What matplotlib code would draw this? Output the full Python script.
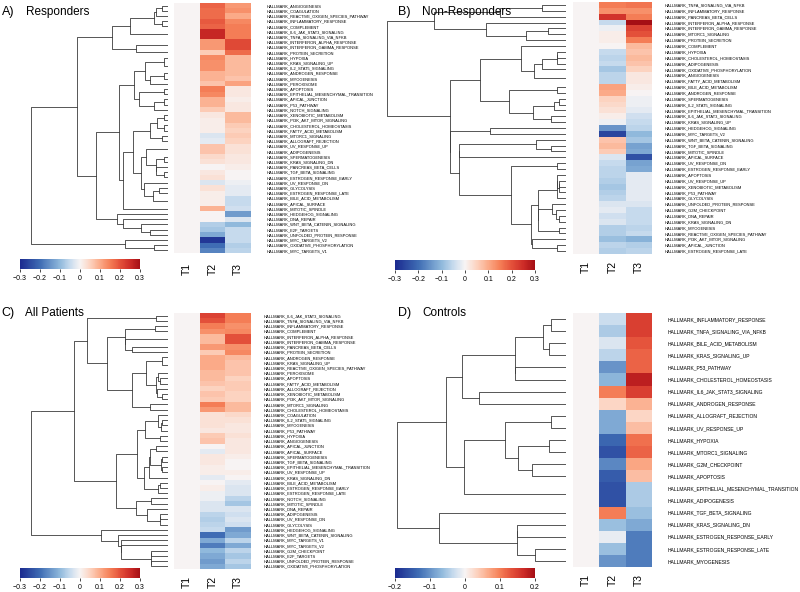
import numpy as np
import matplotlib
matplotlib.use("Agg")
import matplotlib.pyplot as plt
from matplotlib.colors import LinearSegmentedColormap

plt.rcParams["font.family"] = ["Liberation Sans", "DejaVu Sans"]

W, H = 800, 592

# A) Responders
sets_a = ["ANGIOGENESIS", "COAGULATION", "REACTIVE_OXIGEN_SPECIES_PATHWAY", "INFLAMMATORY_RESPONSE",
          "COMPLEMENT", "IL6_JAK_STAT3_SIGNALING", "TNFA_SIGNALING_VIA_NFKB", "INTERFERON_ALPHA_RESPONSE",
          "INTERFERON_GAMMA_RESPONSE", "PROTEIN_SECRETION", "HYPOXIA", "KRAS_SIGNALING_UP",
          "IL2_STAT5_SIGNALING", "ANDROGEN_RESPONSE", "MYOGENESIS", "PEROXISOME", "APOPTOSIS",
          "EPITHELIAL_MESENCHYMAL_TRANSITION", "APICAL_JUNCTION", "P53_PATHWAY", "NOTCH_SIGNALING",
          "XENOBIOTIC_METABOLISM", "PI3K_AKT_MTOR_SIGNALING", "CHOLESTEROL_HOMEOSTASIS",
          "FATTY_ACID_METABOLISM", "MTORC1_SIGNALING", "ALLOGRAFT_REJECTION", "UV_RESPONSE_UP",
          "ADIPOGENESIS", "SPERMATOGENESIS", "KRAS_SIGNALING_DN", "PANCREAS_BETA_CELLS",
          "TGF_BETA_SIGNALING", "ESTROGEN_RESPONSE_EARLY", "UV_RESPONSE_DN", "GLYCOLYSIS",
          "ESTROGEN_RESPONSE_LATE", "BILE_ACID_METABOLISM", "APICAL_SURFACE", "MITOTIC_SPINDLE",
          "HEDGEHOG_SIGNALING", "DNA_REPAIR", "WNT_BETA_CATENIN_SIGNALING", "E2F_TARGETS",
          "UNFOLDED_PROTEIN_RESPONSE", "MYC_TARGETS_V2", "OXIDATIVE_PHOSPHORYLATION", "MYC_TARGETS_V1"]
t2_a = [0.18, 0.17, 0.17, 0.19, 0.18, 0.26, 0.26, 0.12, 0.12, 0.06, 0.14, 0.13, 0.13, 0.09, 0.09,
        0.07, 0.15, 0.14, 0.09, 0.09, 0.06, 0.02, 0.01, 0.01, 0.01, -0.03, -0.02, 0.07, 0.07, 0.04,
        0.03, 0.00, 0.02, 0.03, -0.03, 0.03, 0.01, 0.01, 0.01, 0.09, 0.00, 0.00, -0.07, -0.08, -0.12,
        -0.28, -0.20, -0.17]
t3_a = [0.12, 0.13, 0.10, 0.14, 0.15, 0.15, 0.15, 0.21, 0.21, 0.17, 0.08, 0.08, 0.08, 0.08, 0.07,
        0.11, 0.02, 0.02, 0.01, 0.02, 0.02, 0.08, 0.08, 0.06, 0.05, 0.06, 0.05, 0.03, 0.03, 0.02,
        0.02, 0.01, 0.00, 0.00, -0.01, -0.02, -0.02, -0.05, -0.05, -0.04, -0.14, -0.03, -0.10, -0.05,
        -0.05, -0.05, -0.07, -0.06]

# B) Non-Responders
sets_b = ["TNFA_SIGNALING_VIA_NFKB", "INFLAMMATORY_RESPONSE", "PANCREAS_BETA_CELLS",
          "INTERFERON_ALPHA_RESPONSE", "INTERFERON_GAMMA_RESPONSE", "MTORC1_SIGNALING",
          "PROTEIN_SECRETION", "COMPLEMENT", "HYPOXIA", "CHOLESTEROL_HOMEOSTASIS", "ADIPOGENESIS",
          "OXIDATIVE_PHOSPHORYLATION", "ANGIOGENESIS", "FATTY_ACID_METABOLISM", "BILE_ACID_METABOLISM",
          "ANDROGEN_RESPONSE", "SPERMATOGENESIS", "IL2_STAT5_SIGNALING", "EPITHELIAL_MESENCHYMAL_TRANSITION",
          "IL6_JAK_STAT3_SIGNALING", "KRAS_SIGNALING_UP", "HEDGEHOG_SIGNALING", "MYC_TARGETS_V2",
          "WNT_BETA_CATENIN_SIGNALING", "TGF_BETA_SIGNALING", "MITOTIC_SPINDLE", "APICAL_SURFACE",
          "UV_RESPONSE_DN", "ESTROGEN_RESPONSE_EARLY", "APOPTOSIS", "UV_RESPONSE_UP",
          "XENOBIOTIC_METABOLISM", "P53_PATHWAY", "GLYCOLYSIS", "UNFOLDED_PROTEIN_RESPONSE",
          "G2M_CHECKPOINT", "DNA_REPAIR", "KRAS_SIGNALING_DN", "MYOGENESIS",
          "REACTIVE_OXIGEN_SPECIES_PATHWAY", "PI3K_AKT_MTOR_SIGNALING", "APICAL_JUNCTION",
          "ESTROGEN_RESPONSE_LATE"]
t2_b = [0.15, 0.13, 0.24, -0.05, -0.01, 0.01, 0.01, 0.00, -0.05, -0.06, -0.05, -0.08, -0.06, -0.06,
        0.11, 0.10, 0.05, 0.04, 0.03, 0.01, -0.01, -0.15, -0.26, 0.07, 0.08, 0.06, -0.03, -0.05, -0.06,
        -0.06, -0.07, -0.08, -0.07, -0.06, -0.03, -0.02, -0.04, -0.03, -0.07, -0.07, -0.09, -0.06, -0.07]
t3_b = [0.16, 0.13, 0.15, 0.30, 0.22, 0.20, 0.15, 0.08, 0.07, 0.08, 0.07, 0.05, 0.02, 0.02, 0.01,
        0.00, -0.01, -0.01, -0.02, -0.04, -0.05, -0.06, -0.10, -0.08, -0.13, -0.12, -0.24, -0.13, -0.12,
        -0.02, -0.02, -0.02, -0.02, -0.02, -0.03, -0.05, -0.05, -0.05, -0.06, -0.05, -0.11, -0.07, -0.06]

# C) All Patients
sets_c = ["IL6_JAK_STAT3_SIGNALING", "TNFA_SIGNALING_VIA_NFKB", "INFLAMMATORY_RESPONSE", "COMPLEMENT",
          "INTERFERON_ALPHA_RESPONSE", "INTERFERON_GAMMA_RESPONSE", "PANCREAS_BETA_CELLS",
          "PROTEIN_SECRETION", "ANDROGEN_RESPONSE", "KRAS_SIGNALING_UP", "REACTIVE_OXIGEN_SPECIES_PATHWAY",
          "PEROXISOME", "APOPTOSIS", "FATTY_ACID_METABOLISM", "ALLOGRAFT_REJECTION",
          "XENOBIOTIC_METABOLISM", "PI3K_AKT_MTOR_SIGNALING", "MTORC1_SIGNALING",
          "CHOLESTEROL_HOMEOSTASIS", "COAGULATION", "IL2_STAT5_SIGNALING", "MYOGENESIS", "P53_PATHWAY",
          "HYPOXIA", "ANGIOGENESIS", "APICAL_JUNCTION", "APICAL_SURFACE", "SPERMATOGENESIS",
          "TGF_BETA_SIGNALING", "EPITHELIAL_MESENCHYMAL_TRANSITION", "UV_RESPONSE_UP", "KRAS_SIGNALING_DN",
          "BILE_ACID_METABOLISM", "ESTROGEN_RESPONSE_EARLY", "ESTROGEN_RESPONSE_LATE", "NOTCH_SIGNALING",
          "MITOTIC_SPINDLE", "DNA_REPAIR", "ADIPOGENESIS", "UV_RESPONSE_DN", "GLYCOLYSIS",
          "HEDGEHOG_SIGNALING", "WNT_BETA_CATENIN_SIGNALING", "MYC_TARGETS_V1", "MYC_TARGETS_V2",
          "G2M_CHECKPOINT", "E2F_TARGETS", "UNFOLDED_PROTEIN_RESPONSE", "OXIDATIVE_PHOSPHORYLATION"]
t2_c = [0.22, 0.20, 0.15, 0.13, 0.08, 0.08, 0.12, 0.06, 0.10, 0.10, 0.10, 0.08, 0.08, 0.07, 0.05,
        0.07, 0.06, 0.15, 0.12, 0.03, 0.03, 0.03, 0.02, 0.06, 0.07, 0.00, -0.02, 0.02, 0.02, 0.01,
        0.01, -0.02, 0.00, 0.01, -0.01, -0.01, -0.03, -0.03, -0.06, -0.07, -0.06, -0.05, -0.20, -0.12,
        -0.18, -0.10, -0.12, -0.14, -0.12]
t3_c = [0.15, 0.15, 0.13, 0.14, 0.20, 0.20, 0.13, 0.14, 0.08, 0.07, 0.07, 0.07, 0.05, 0.06, 0.06,
        0.05, 0.05, 0.08, 0.08, 0.04, 0.03, 0.02, 0.02, 0.03, 0.02, 0.02, 0.02, 0.01, 0.00, 0.00,
        0.01, 0.00, -0.02, -0.03, -0.03, -0.06, -0.08, -0.03, -0.04, -0.03, -0.04, -0.14, -0.12, -0.06,
        -0.12, -0.06, -0.08, -0.06, -0.08]

# D) Controls
sets_d = ["INFLAMMATORY_RESPONSE", "TNFA_SIGNALING_VIA_NFKB", "BILE_ACID_METABOLISM", "KRAS_SIGNALING_UP",
          "P53_PATHWAY", "CHOLESTEROL_HOMEOSTASIS", "IL6_JAK_STAT3_SIGNALING", "ANDROGEN_RESPONSE",
          "ALLOGRAFT_REJECTION", "UV_RESPONSE_UP", "HYPOXIA", "MTORC1_SIGNALING", "G2M_CHECKPOINT",
          "APOPTOSIS", "EPITHELIAL_MESENCHYMAL_TRANSITION", "ADIPOGENESIS", "TGF_BETA_SIGNALING",
          "KRAS_SIGNALING_DN", "ESTROGEN_RESPONSE_EARLY", "ESTROGEN_RESPONSE_LATE", "MYOGENESIS"]
t2_d = [-0.03, -0.05, -0.02, -0.04, -0.10, -0.07, 0.10, 0.03, -0.08, -0.08, -0.14, -0.16, -0.11,
        -0.15, -0.16, -0.16, 0.10, -0.06, -0.01, -0.06, -0.10]
t3_d = [0.15, 0.15, 0.13, 0.12, 0.12, 0.18, 0.15, 0.06, 0.03, 0.05, 0.11, 0.12, 0.07, 0.05, -0.05,
        -0.05, -0.06, -0.08, -0.12, -0.12, -0.12]

timepoints = ["T1", "T2", "T3"]

cmap = LinearSegmentedColormap.from_list("gsva", [
    (0.0, "#1b2a8f"), (1 / 6, "#3f6db4"), (1 / 3, "#90b9dc"), (0.42, "#c9dcee"), (0.5, "#f7f4f4"),
    (0.58, "#fcd5c3"), (2 / 3, "#fbaa88"), (0.75, "#f57f57"), (5 / 6, "#e4513a"), (0.92, "#cc2b27"),
    (1.0, "#a50f15")])


def px(x0, y0, x1, y1):
    return [x0 / W, 1 - y1 / H, (x1 - x0) / W, (y1 - y0) / H]


def adjacent_linkage(vals):
    # average linkage, merging only neighbouring clusters so the row order is kept
    clusters = [{"m": [i], "pos": i + 0.5, "h": 0.0} for i in range(len(vals))]
    merges = []
    while len(clusters) > 1:
        best = None
        for j in range(len(clusters) - 1):
            a = vals[clusters[j]["m"]]
            b = vals[clusters[j + 1]["m"]]
            d = np.mean(np.linalg.norm(a[:, None, :] - b[None, :, :], axis=2))
            if best is None or d < best[0]:
                best = (d, j)
        d, j = best
        a, b = clusters[j], clusters[j + 1]
        h = max(d, a["h"], b["h"])
        merges.append((a["pos"], a["h"], b["pos"], b["h"], h))
        clusters[j:j + 2] = [{"m": a["m"] + b["m"], "pos": (a["pos"] + b["pos"]) / 2, "h": h}]
    return merges


def draw_panel(fig, sets, t2, t3, letter, title, title_xy, dend_box, heat_box, cbar_box,
               vlim, ticks, label_size, label_pad, t_pad):
    n = len(sets)
    vals = np.column_stack([np.zeros(n), t2, t3])

    ax = fig.add_axes(px(*heat_box))
    mesh = ax.pcolormesh(vals, cmap=cmap, vmin=-vlim, vmax=vlim)
    ax.set_xlim(0, 3)
    ax.set_ylim(n, 0)
    ax.set_xticks(np.arange(3) + 0.5)
    ax.set_xticklabels(timepoints, rotation=90, fontsize=7.5)
    ax.yaxis.tick_right()
    ax.set_yticks(np.arange(n) + 0.5)
    ax.set_yticklabels(["HALLMARK_" + s for s in sets], fontsize=label_size)
    ax.tick_params(axis="y", length=0, pad=label_pad)
    ax.tick_params(axis="x", length=0, pad=t_pad)
    for sp in ax.spines.values():
        sp.set_visible(False)

    ax_d = fig.add_axes(px(*dend_box))
    merges = adjacent_linkage(vals[:, 1:])
    top = max(m[4] for m in merges)
    for ya, ha, yb, hb, h in merges:
        ax_d.plot([ha, h, h, hb], [ya, ya, yb, yb], color="#3a3a3a", lw=0.6)
    ax_d.set_xlim(top * 1.01, 0)
    ax_d.set_ylim(n, 0)
    ax_d.axis("off")

    cax = fig.add_axes(px(*cbar_box))
    cb = fig.colorbar(mesh, cax=cax, orientation="horizontal", ticks=ticks)
    cb.ax.set_xticklabels(["0" if t == 0 else f"{t:.1f}".replace("-", "\u2212") for t in ticks])
    cb.ax.tick_params(labelsize=5, length=2, width=0.5, pad=2)
    cb.outline.set_visible(False)

    fig.text(title_xy[0] / W, 1 - title_xy[1] / H, letter, fontsize=9, va="center", ha="left")
    fig.text((title_xy[0] + 24) / W, 1 - title_xy[1] / H, title, fontsize=8.5, va="center", ha="left")


fig = plt.figure(figsize=(8, 5.92), dpi=100)
ticks3 = [-0.3, -0.2, -0.1, 0, 0.1, 0.2, 0.3]
ticks2 = [-0.2, -0.1, 0, 0.1, 0.2]

draw_panel(fig, sets_a, t2_a, t3_a, "A)", "Responders", (2, 12),
           (30, 3, 168, 253), (174, 3, 251, 253), (20, 259, 140, 269),
           0.3, ticks3, 2.9, 11, 7)
draw_panel(fig, sets_b, t2_b, t3_b, "B)", "Non-Responders", (398, 12),
           (385, 2, 566, 254), (573, 2, 652, 254), (395, 260, 535, 270),
           0.3, ticks3, 2.9, 9, 5)
draw_panel(fig, sets_c, t2_c, t3_c, "C)", "All Patients", (1, 313),
           (30, 313, 168, 569), (174, 313, 251, 569), (20, 568, 140, 578),
           0.3, ticks3, 2.9, 9, 5)
draw_panel(fig, sets_d, t2_d, t3_d, "D)", "Controls", (398, 313),
           (395, 313, 566, 567), (573, 313, 652, 567), (395, 568, 535, 578),
           0.2, ticks2, 3.6, 11, 5)

fig.savefig("out.png", dpi=100)
